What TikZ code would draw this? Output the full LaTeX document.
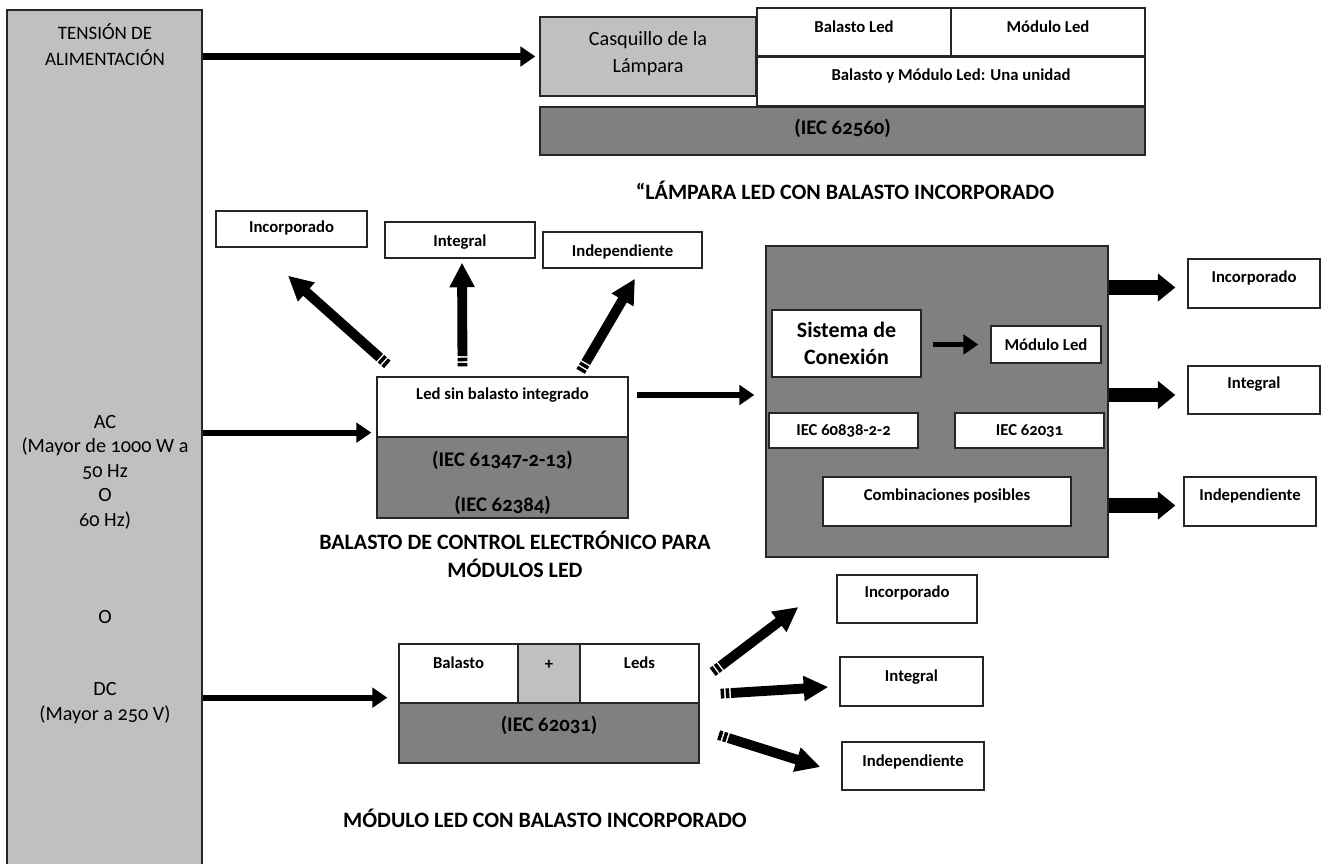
\documentclass[tikz,border=0pt]{standalone}
\usepackage{fontspec}
\setmainfont{Carlito}[Numbers=OldStyle]
\usetikzlibrary{fit,arrows.meta}
\definecolor{lightgrey}{HTML}{C0C0C0}
\definecolor{darkgrey}{HTML}{808080}
\newcommand{\bigfont}{\fontsize{11.5}{14}\selectfont}
\newcommand{\lblfont}{\bfseries\fontsize{9.5}{11}\selectfont}
\newcommand{\capfont}{\bfseries\fontsize{12.5}{15.9}\selectfont}
\newcommand{\stdfont}{\bfseries\fontsize{11.8}{14}\selectfont}

\begin{document}
\begin{tikzpicture}[
		x=0.02cm, y=-0.02cm,
		box/.style={
			draw=black!85,
			line width=0.75pt,
			inner sep=0pt,
			fill=white
		},
		lightbox/.style={box, fill=lightgrey},
		darkbox/.style={box, fill=darkgrey},
		every label/.style={font=\lblfont, inner sep=0pt, align=center},
		raised/.style 2 args={label={[#1]center:{#2}}},
		flow/.style={line width=3.6pt, -{Triangle[length=8.5pt, width=11pt]}},
		fat/.style={line width=8.5pt, -{Triangle[length=10pt, width=15.5pt]}},
		striped/.style={
			line width=5.6pt,
			dash pattern=on 2pt off 0.9pt on 2pt off 0.9pt on 300pt off 0pt,
			-{Triangle[length=14pt, width=13.5pt]}
		},
		caption/.style={align=center, font=\capfont},
		supplytext/.style={align=center, font=\bigfont}
	]
	\useasboundingbox (0,0) rectangle (1335,863);

	% supply voltage column
	\node[lightbox, fit={(7,10) (202,880)}] (supply) {};
	\node[supplytext, font=\fontsize{10.8}{14.7}\selectfont] (tension) at (105,45) {TENSIÓN DE\\ALIMENTACIÓN};
	\node[supplytext, font=\fontsize{11.5}{13.9}\selectfont] (ac) at (105,472) {AC\\(Mayor de 1000 W a\\50 Hz\\O\\60 Hz)};
	\node[supplytext] (or) at (105,617) {O};
	\node[supplytext] (dc) at (105,703) {DC\\(Mayor a 250 V)};

	% lamp with built-in ballast
	\node[lightbox, fit={(540,17) (756,96)}, raised={yshift=1.7pt, font=\fontsize{11.5}{15.3}\selectfont}{Casquillo de la\\Lámpara}] (casq) {};
	\node[box, fit={(757,8) (951,56)}, raised={yshift=2.8pt}{Balasto Led}] (topball) {};
	\node[box, fit={(951,8) (1145,56)}, raised={yshift=2.8pt}{Módulo Led}] (topmod) {};
	\node[box, fit={(757,57) (1145,106)}, raised={yshift=3.4pt}{Balasto y Módulo Led: Una unidad}] (unit) {};
	\node[darkbox, fit={(540,107) (1145,155)}, raised={yshift=1.5pt, font=\stdfont}{(IEC 62560)}] (iec62560) {};
	\node[caption] (lampcap) at (845,190) {“LÁMPARA LED CON BALASTO INCORPORADO};

	% electronic ballast
	\node[box, fit={(216,211) (367,247)}, raised={yshift=0.5pt}{Incorporado}] (ballinc) {};
	\node[box, fit={(385,222) (535,258)}, raised={yshift=-1pt}{Integral}] (ballint) {};
	\node[box, fit={(543,232) (702,268)}, raised={yshift=-1pt}{Independiente}] (ballind) {};
	\node[box, fit={(377,377) (628,437)}, raised={yshift=6.8pt}{Led sin balasto integrado}] (ledtop) {};
	\node[darkbox, fit={(377,437) (628,518)},
		raised={yshift=9.9pt, font=\stdfont}{(IEC 61347-2-13)},
		raised={yshift=-15.6pt, font=\stdfont}{(IEC 62384)}] (ledstd) {};
	\node[caption] (ballcap) at (515,554) {BALASTO DE CONTROL ELECTRÓNICO PARA\\MÓDULOS LED};

	% connection system
	\node[darkbox, fit={(766,246) (1108,557)}] (conn) {};
	\node[box, fit={(772,310) (921,377)}, raised={font=\bfseries\fontsize{12.5}{15.3}\selectfont}{Sistema de\\Conexión}] (sys) {};
	\node[box, fit={(991,326) (1101,363)}, raised={}{Módulo Led}] (connmod) {};
	\node[box, fit={(769,413) (918,448)}, raised={}{IEC 60838-2-2}] (iec60838) {};
	\node[box, fit={(955,413) (1104,448)}, raised={}{IEC 62031}] (iec62031a) {};
	\node[box, fit={(823,477) (1071,526)}, raised={yshift=3.4pt}{Combinaciones posibles}] (combo) {};
	\node[box, fit={(1188,259) (1320,308)}, raised={yshift=3.4pt}{Incorporado}] (outinc) {};
	\node[box, fit={(1188,366) (1320,414)}, raised={yshift=3.4pt}{Integral}] (outint) {};
	\node[box, fit={(1184,477) (1316,526)}, raised={yshift=3.4pt}{Independiente}] (outind) {};

	% led module with ballast
	\node[box, fit={(399,644) (518,703)}, raised={yshift=6.2pt}{Balasto}] (modball) {};
	\node[lightbox, fit={(518,644) (580,703)}, raised={yshift=4.8pt}{+}] (modplus) {};
	\node[box, fit={(580,644) (699,703)}, raised={yshift=6.2pt}{Leds}] (modleds) {};
	\node[darkbox, fit={(399,703) (699,763)}, raised={yshift=4.5pt, font=\stdfont}{(IEC 62031)}] (modstd) {};
	\node[box, fit={(837,575) (977,623)}, raised={yshift=3.4pt}{Incorporado}] (modinc) {};
	\node[box, fit={(840,657) (983,706)}, raised={yshift=2.3pt}{Integral}] (modint) {};
	\node[box, fit={(842,742) (984,790)}, raised={yshift=2.3pt}{Independiente}] (modind) {};
	\node[caption] (modcap) at (545,818) {MÓDULO LED CON BALASTO INCORPORADO};

	% arrows
	\coordinate (acin) at ([yshift=0.1cm]ledtop.south west);
	\coordinate (dcin) at ([yshift=0.12cm]modball.south west);
	\coordinate (toconn) at ([yshift=0.24cm]ledtop.east);
	\draw[flow, shorten >=0.08cm] (supply.east |- casq.west) -- (casq.west);
	\draw[flow, shorten >=0.1cm] (supply.east |- acin) -- (acin);
	\draw[flow, shorten >=0.22cm] (supply.east |- dcin) -- (dcin);
	\draw[flow, shorten <=0.16cm, shorten >=0.22cm] (toconn) -- (toconn -| conn.west);
	\draw[flow, line width=3pt, shorten <=0.22cm, shorten >=0.24cm] (sys.east |- connmod.west) -- (connmod.west);

	\draw[fat, shorten >=0.24cm] ([yshift=-0.08cm]conn.east |- outinc.west) -- ([yshift=-0.08cm]outinc.west);
	\draw[fat, shorten >=0.24cm] ([yshift=-0.1cm]conn.east |- outint.west) -- ([yshift=-0.1cm]outint.west);
	\draw[fat, shorten >=0.16cm] ([yshift=-0.08cm]conn.east |- outind.west) -- ([yshift=-0.08cm]outind.west);

	\draw[striped] ([shift={(11,-12)}]ledtop.north west) -- ([shift={(-3.5,28)}]ballinc.south);
	\draw[striped] ([shift={(-40,-10)}]ledtop.north) -- ([shift={(2,4)}]ballint.south);
	\draw[striped] ([shift={(-48,-5)}]ledtop.north east) -- ([shift={(12.5,10)}]ballind.south);
	\draw[striped] ([shift={(13,-1.5)}]modleds.east) -- ([shift={(-38,8)}]modinc.west);
	\draw[striped] ([shift={(21,-10)}]modleds.south east) -- ([shift={(-11,5.5)}]modint.west);
	\draw[striped] ([shift={(19,2)}]modstd.east) -- ([shift={(-21,1)}]modind.west);
\end{tikzpicture}
\end{document}
